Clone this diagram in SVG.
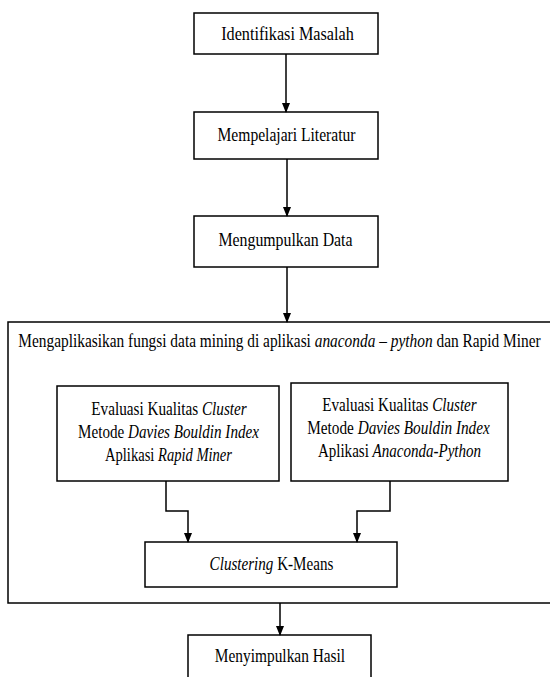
<svg xmlns="http://www.w3.org/2000/svg" width="550" height="677" viewBox="0 0 550 677">
<style>
.box{fill:#fff;stroke:#000;stroke-width:1.5}
.t{font-family:'Liberation Serif',serif;font-size:18px;fill:#000;text-anchor:middle}
.i{font-style:italic}
.c{fill:none;stroke:#000;stroke-width:1.5}
</style>
<defs>
<marker id="ar" markerWidth="10" markerHeight="10" refX="9" refY="5" orient="auto" markerUnits="userSpaceOnUse">
<path d="M0,1 L10,5 L0,9 Z" fill="#000"/>
</marker>
</defs>
<rect width="550" height="677" fill="#fff"/>
<g id="big">
<rect class="box" x="8" y="322" width="545" height="281"/>
<text class="t" transform="translate(279.5,347) scale(0.855,1)">Mengaplikasikan fungsi data mining di aplikasi <tspan class="i">anaconda – python</tspan> dan Rapid Miner</text>
</g>
<g id="n1">
<rect class="box" x="194" y="13" width="184" height="41"/>
<text class="t" transform="translate(287.5,40) scale(0.9,1)">Identifikasi Masalah</text>
</g>
<g id="n2">
<rect class="box" x="194" y="112" width="184" height="47"/>
<text class="t" transform="translate(286.5,141) scale(0.867,1)">Mempelajari Literatur</text>
</g>
<g id="n3">
<rect class="box" x="194" y="216" width="184" height="51"/>
<text class="t" transform="translate(285.5,246) scale(0.88,1)">Mengumpulkan Data</text>
</g>
<g id="e1">
<rect class="box" x="57" y="386" width="222" height="95"/>
<text class="t" transform="translate(169,415) scale(0.845,1)">Evaluasi Kualitas <tspan class="i">Cluster</tspan></text>
<text class="t" transform="translate(168.5,438) scale(0.84,1)">Metode <tspan class="i">Davies Bouldin Index</tspan></text>
<text class="t" transform="translate(168.5,461) scale(0.81,1)">Aplikasi <tspan class="i">Rapid Miner</tspan></text>
</g>
<g id="e2">
<rect class="box" x="291" y="383" width="217" height="98"/>
<text class="t" transform="translate(399.5,411) scale(0.84,1)">Evaluasi Kualitas <tspan class="i">Cluster</tspan></text>
<text class="t" transform="translate(398.5,434) scale(0.848,1)">Metode <tspan class="i">Davies Bouldin Index</tspan></text>
<text class="t" transform="translate(399.5,457) scale(0.835,1)">Aplikasi <tspan class="i">Anaconda-Python</tspan></text>
</g>
<g id="km">
<rect class="box" x="145" y="542" width="252" height="45"/>
<text class="t" transform="translate(271.5,570) scale(0.84,1)"><tspan class="i">Clustering</tspan> K-Means</text>
</g>
<g id="hasil">
<rect class="box" x="188" y="635" width="183" height="50"/>
<text class="t" transform="translate(280,662) scale(0.855,1)">Menyimpulkan Hasil</text>
</g>
<g id="connectors">
<line class="c" x1="286" y1="54" x2="286" y2="112" marker-end="url(#ar)"/>
<line class="c" x1="287" y1="159" x2="287" y2="216" marker-end="url(#ar)"/>
<line class="c" x1="287" y1="267" x2="287" y2="322" marker-end="url(#ar)"/>
<polyline class="c" points="166,481 166,511 188,511 188,542" marker-end="url(#ar)"/>
<polyline class="c" points="390,481 390,511 357,511 357,542" marker-end="url(#ar)"/>
<line class="c" x1="280" y1="603" x2="280" y2="635" marker-end="url(#ar)"/>
</g>
</svg>
